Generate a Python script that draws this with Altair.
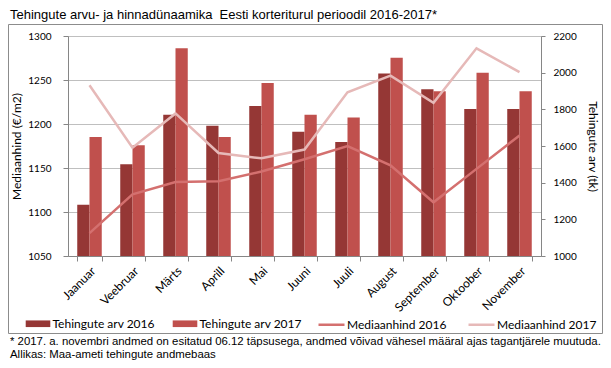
import altair as alt
import pandas as pd

months = ["Jaanuar", "Veebruar", "Märts", "Aprill", "Mai", "Juuni", "Juuli",
          "August", "September", "Oktoober", "November"]
tehingud_2016 = [1280, 1500, 1771, 1711, 1818, 1678, 1622, 1995, 1909, 1802, 1802]
tehingud_2017 = [1649, 1604, 2133, 1649, 1944, 1771, 1756, 2082, 1898, 2000, 1898]
hind_2016 = [1076, 1120, 1134, 1135, 1146, 1160, 1175, 1153, 1111, 1149, 1187]
hind_2017 = [1244, 1173, 1212, 1167, 1161, 1171, 1236, 1255, 1224, 1286, 1259]

bar_series = ["Tehingute arv 2016", "Tehingute arv 2017"]
line_series = ["Mediaanhind 2016", "Mediaanhind 2017"]
bar_colors = ["#953735", "#C0504D"]
line_colors = ["#D4706F", "#E6B9B8"]

title_text = "Tehingute arvu- ja hinnadünaamika\u00a0 Eesti korteriturul perioodil 2016-2017*"
foot1 = "* 2017. a. novembri andmed on esitatud 06.12 täpsusega, andmed võivad vähesel määral ajas tagantjärele muutuda."
foot2 = "Allikas: Maa-ameti tehingute andmebaas"

bars_df = pd.DataFrame({
    "month": months * 2,
    "series": [bar_series[0]] * len(months) + [bar_series[1]] * len(months),
    "value": tehingud_2016 + tehingud_2017,
})
lines_df = pd.DataFrame({
    "month": months * 2,
    "series": [line_series[0]] * len(months) + [line_series[1]] * len(months),
    "value": hind_2016 + hind_2017,
})

W, H = 473, 220
GREY = "#868686"

x_enc = alt.X(
    "month:N", sort=months,
    scale=alt.Scale(paddingInner=0.43, paddingOuter=0.215),
    axis=alt.Axis(title=None, labelAngle=-45, labelFont="Lato", labelFontSize=12,
                  labelColor="black", tickBand="extent", tickSize=5, tickColor=GREY,
                  domainColor=GREY, labelPadding=4, grid=False),
)

bars = alt.Chart(bars_df).mark_bar(clip=True).encode(
    x=x_enc,
    xOffset=alt.XOffset("series:N", sort=bar_series,
                        scale=alt.Scale(paddingInner=0, paddingOuter=0)),
    y=alt.Y("value:Q",
            scale=alt.Scale(domain=[1000, 2200], nice=False, zero=False),
            axis=alt.Axis(orient="right", title="Tehingute arv (tk)", format="d",
                          values=[1000, 1200, 1400, 1600, 1800, 2000, 2200],
                          grid=False, tickSize=4, tickColor=GREY, domainColor=GREY,
                          labelFont="Lato", labelFontSize=10, labelColor="black",
                          labelPadding=8, titleFont="Lato", titleFontSize=12,
                          titleFontWeight="normal", titleColor="black",
                          titlePadding=9)),
    color=alt.Color("series:N",
                    scale=alt.Scale(domain=bar_series, range=bar_colors),
                    legend=alt.Legend(orient="none", legendX=-42.5, legendY=275,
                                      direction="horizontal", columns=2, title=None,
                                      symbolType="M-1,-0.27H1V0.27H-1Z", symbolSize=605,
                                      symbolStrokeWidth=0, symbolOpacity=1,
                                      labelFont="Lato", labelFontSize=12,
                                      labelColor="black", labelOffset=2,
                                      columnPadding=17, padding=0)),
)

lines = alt.Chart(lines_df).mark_line(strokeWidth=2.5).encode(
    x=alt.X("month:N", sort=months),
    y=alt.Y("value:Q",
            scale=alt.Scale(domain=[1050, 1300], nice=False, zero=False),
            axis=alt.Axis(orient="left", title="Mediaanhind (€/m2)", format="d",
                          values=[1050, 1100, 1150, 1200, 1250, 1300],
                          grid=True, gridColor="#BFBFBF", tickSize=5, tickColor=GREY,
                          domainColor=GREY, labelFont="Lato", labelFontSize=10,
                          labelColor="black", labelPadding=12, titleFont="Lato",
                          titleFontSize=12, titleFontWeight="normal",
                          titleColor="black", titlePadding=4)),
    color=alt.Color("series:N",
                    scale=alt.Scale(domain=line_series, range=line_colors),
                    legend=alt.Legend(orient="none", legendX=249, legendY=274,
                                      direction="horizontal", columns=2, title=None,
                                      symbolType="stroke", symbolSize=676,
                                      symbolStrokeWidth=2.5,
                                      labelFont="Lato", labelFontSize=12,
                                      labelColor="black", labelOffset=1,
                                      columnPadding=16, padding=0)),
)

frame = alt.Chart(pd.DataFrame({"k": [0]})).mark_rect(
    fill=None, stroke="#8C8C8C", strokeWidth=1
).encode(x=alt.value(-59.5), x2=alt.value(534.5), y=alt.value(-11.5), y2=alt.value(297.5))

texts = pd.DataFrame({"t": [title_text]})
title_mark = alt.Chart(texts).mark_text(
    align="left", baseline="alphabetic", font="Liberation Sans", fontSize=13, color="black"
).encode(text="t:N", x=alt.value(-58), y=alt.value(-17))

foot_df1 = pd.DataFrame({"t": [foot1]})
foot_df2 = pd.DataFrame({"t": [foot2]})
foot_mark1 = alt.Chart(foot_df1).mark_text(
    align="left", baseline="alphabetic", font="Liberation Sans", fontSize=11.4, color="black"
).encode(text="t:N", x=alt.value(-58), y=alt.value(309))
foot_mark2 = alt.Chart(foot_df2).mark_text(
    align="left", baseline="alphabetic", font="Liberation Sans", fontSize=11.4, color="black"
).encode(text="t:N", x=alt.value(-58), y=alt.value(322))

chart = alt.layer(frame, bars, lines, title_mark, foot_mark1, foot_mark2).resolve_scale(
    y="independent", color="independent"
).properties(
    width=W, height=H,
    autosize=alt.AutoSizeParams(type="none"),
    padding={"left": 60, "top": 28, "right": 62, "bottom": 104},
).configure_view(stroke=None).configure(background="white")

chart.save("out.html", embed_options={"renderer": "svg", "actions": False})
